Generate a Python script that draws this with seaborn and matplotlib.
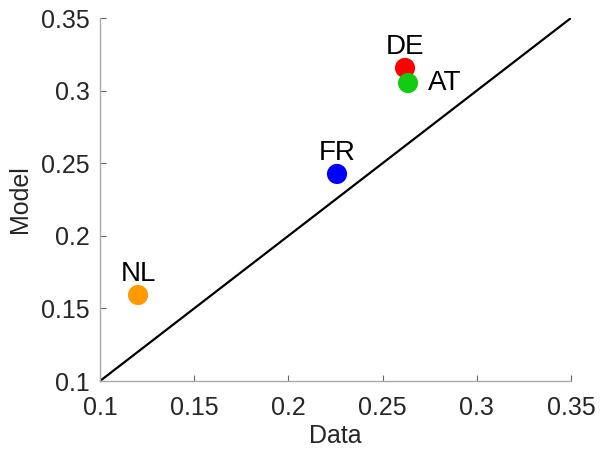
import matplotlib
matplotlib.use("Agg")
import matplotlib.pyplot as plt
import seaborn as sns
import pandas as pd

countries = ["NL", "FR", "DE", "AT"]
data_vals = [0.1202, 0.2258, 0.2619, 0.2635]
model_vals = [0.1592, 0.2426, 0.3156, 0.3052]
colors = ["#FF9900", "#0000FF", "#FF0000", "#11CC11"]
ticks = [0.1, 0.15, 0.2, 0.25, 0.3, 0.35]
tick_labels = ["0.1", "0.15", "0.2", "0.25", "0.3", "0.35"]
diag = [0.1, 0.35]

sns.set_style("white")
plt.rcParams["font.family"] = ["Liberation Sans", "DejaVu Sans"]

df = pd.DataFrame({"Data": data_vals, "Model": model_vals, "Country": countries})

fig = plt.figure(figsize=(6, 4.51), dpi=100)
ax = fig.add_axes([100/600, 1-381/451, 471/600, 363/451])

sns.lineplot(x=diag, y=diag, ax=ax, color="black", linewidth=1.6, zorder=1)
sns.scatterplot(data=df, x="Data", y="Model", hue="Country",
                palette=dict(zip(countries, colors)), s=210, edgecolor="none",
                legend=False, ax=ax, zorder=3)

offsets = {"NL": (0, 21, "center"), "FR": (0, 21, "center"),
           "DE": (0, 21, "center"), "AT": (20, 0, "left")}
for c, xv, yv in zip(countries, data_vals, model_vals):
    dx, dy, ha = offsets[c]
    ax.annotate(c, (xv, yv), xytext=(dx, dy), textcoords="offset pixels",
                ha=ha, va="center", fontsize=20, color="black")

ax.set_xlim(0.1, 0.35)
ax.set_ylim(0.1, 0.35)
ax.set_xticks(ticks)
ax.set_xticklabels(tick_labels)
ax.set_yticks(ticks)
ax.set_yticklabels(tick_labels)
ax.tick_params(bottom=True, left=True, direction="in", length=4, width=0.8,
               color="#666666", labelsize=18, labelcolor="#262626")
ax.tick_params(axis="x", pad=11)
ax.tick_params(axis="y", pad=7.5)
for side in ["top", "right"]:
    ax.spines[side].set_visible(False)
for side in ["left", "bottom"]:
    ax.spines[side].set_color("#aaaaaa")
    ax.spines[side].set_linewidth(1.0)
ax.set_xlabel("Data", fontsize=18, color="#262626", labelpad=3)
ax.set_ylabel("Model", fontsize=18, color="#262626", labelpad=6)

fig.savefig("out.png", dpi=100)
